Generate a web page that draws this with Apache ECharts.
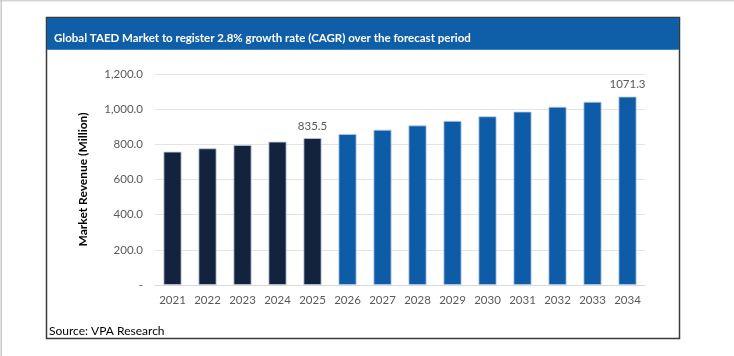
<!DOCTYPE html>
<html>
<head>
<meta charset="utf-8">
<script src="https://cdn.jsdelivr.net/npm/echarts@6/dist/echarts.min.js"></script>
<style>
html,body{margin:0;padding:0;background:#fff;}
#c{width:734px;height:356px;}
</style>
</head>
<body>
<div id="c"></div>
<script>
const years = ['2021','2022','2023','2024','2025','2026','2027','2028','2029','2030','2031','2032','2033','2034'];
const revenue = [758, 777, 796, 815, 835.5, 858.9, 882.9, 907.6, 933.0, 959.1, 986.0, 1013.6, 1041.9, 1071.3];
const labeledYears = ['2025','2034'];
const historicColor = '#13233d';
const forecastColor = '#0e5ca7';
const lastHistoricYear = '2025';

const chart = echarts.init(document.getElementById('c'), null, {renderer:'canvas'});
const FONT = 'Lato';

const data = years.map((y, i) => ({
  value: revenue[i],
  itemStyle: { color: y <= lastHistoricYear ? historicColor : forecastColor },
  label: { show: labeledYears.includes(y) }
}));

chart.setOption({
  animation: false,
  backgroundColor: '#fff',
  textStyle: { fontFamily: FONT },
  graphic: [
    { type: 'rect', shape: { x: 0, y: 0, width: 734, height: 1.5 }, style: { fill: '#d4d4d4' }, silent: true },
    { type: 'rect', shape: { x: 0.5, y: 0, width: 1.5, height: 356 }, style: { fill: '#c8c8c8' }, silent: true },
    { type: 'rect', shape: { x: 46.5, y: 17.5, width: 633, height: 321 }, style: { fill: 'none', stroke: '#3a3a3a', lineWidth: 1.5 }, z: -1, silent: true },
    { type: 'rect', shape: { x: 47, y: 18, width: 632, height: 32 }, style: { fill: '#0f5ea8' }, z: -1, silent: true },
    { type: 'rect', shape: { x: 47, y: 49, width: 632, height: 1 }, style: { fill: '#3f86c8' }, z: -1, silent: true },
    { type: 'text', left: 49, top: 325, style: { text: 'Source: VPA Research', fill: '#000', fontSize: 12, fontFamily: FONT }, silent: true }
  ],
  title: {
    text: 'Global TAED Market to register 2.8% growth rate (CAGR) over the forecast period',
    left: 49, top: 27,
    textStyle: { color: '#fff', fontSize: 11.5, fontWeight: 'bold', fontFamily: FONT }
  },
  grid: { left: 155, right: 89, top: 74, bottom: 71 },
  xAxis: {
    type: 'category',
    data: years,
    axisLine: { lineStyle: { color: '#d9d9d9', width: 1 } },
    axisTick: { show: false },
    axisLabel: { color: '#595959', fontSize: 11.5, margin: 9, fontFamily: FONT }
  },
  yAxis: {
    type: 'value',
    min: 0, max: 1200, interval: 200,
    name: 'Market Revenue (Million)',
    nameLocation: 'middle',
    nameGap: 66,
    nameTextStyle: { color: '#000', fontSize: 12, fontWeight: 'bold', fontFamily: FONT },
    axisLine: { show: false },
    axisTick: { show: false },
    splitLine: { lineStyle: { color: '#e3e3e3', width: 1 } },
    axisLabel: {
      color: '#595959', fontSize: 11.5, margin: 12, fontFamily: FONT,
      formatter: v => v === 0 ? '-' : v.toLocaleString('en-US', { minimumFractionDigits: 1, maximumFractionDigits: 1 })
    }
  },
  series: [{
    type: 'bar',
    data: data,
    barWidth: 18,
    itemStyle: { borderColor: '#b8cce4', borderWidth: 0.8 },
    label: {
      position: 'top', distance: 6, color: '#595959', fontSize: 11.5, fontFamily: FONT,
      formatter: p => String(p.value)
    }
  }]
});
</script>
</body>
</html>
